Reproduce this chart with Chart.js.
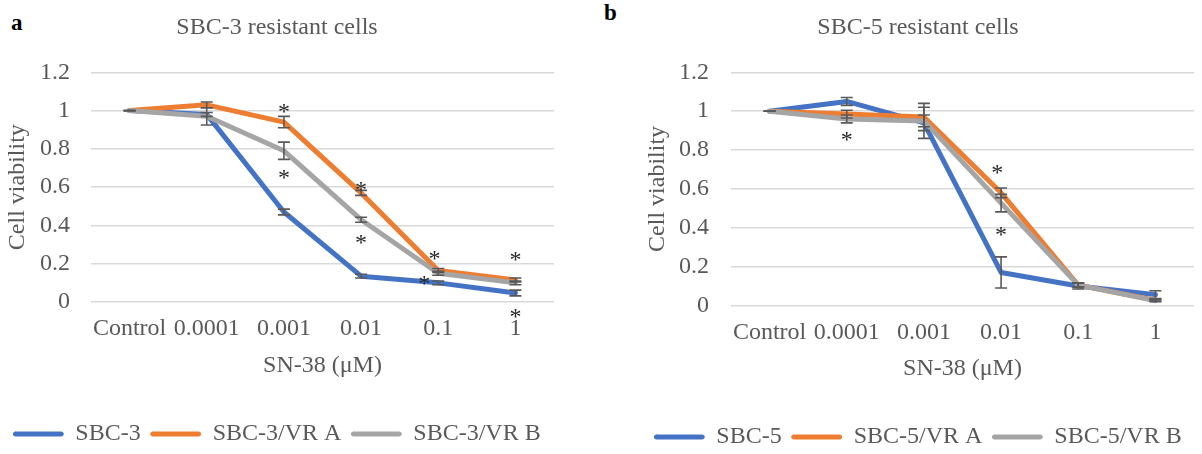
<!doctype html>
<html>
  <head>
    <meta charset="utf-8" />
    <script src="https://cdn.jsdelivr.net/npm/chart.js"></script>
    <style>
      html, body { margin: 0; padding: 0; background: #fff; overflow: hidden; }
      body { width: 1202px; height: 454px; position: relative; }
      .panel {
        position: absolute;
        font-family: "Liberation Serif", "Times New Roman", serif;
        font-weight: bold;
        font-size: 23px;
        line-height: 23px;
        color: #000;
      }
      #leftChart { position: absolute; left: 0; top: 0; }
      #rightChart { position: absolute; left: 600px; top: 0; }
    </style>
  </head>
  <body>
    <div class="panel" style="left: 11px; top: 11px">a</div>
    <div class="panel" style="left: 604px; top: 1px">b</div>
    <canvas id="leftChart" width="600" height="456"></canvas>
    <canvas id="rightChart" width="602" height="459"></canvas>
    <script>
      // x categories (SN-38 concentration, uM)
      const doses = ["Control", "0.0001", "0.001", "0.01", "0.1", "1"];

      // panel a - SBC-3 resistant cells
      const sbc3 = [1, 0.98, 0.47, 0.135, 0.1, 0.047];
      const sbc3Err = [0, 0.01, 0.015, 0.01, 0.01, 0.015];
      const sbc3VrA = [1, 1.03, 0.94, 0.57, 0.165, 0.115];
      const sbc3VrAErr = [0, 0.015, 0.03, 0.013, 0.01, 0.01];
      const sbc3VrB = [1, 0.97, 0.79, 0.43, 0.15, 0.1];
      const sbc3VrBErr = [0, 0.045, 0.045, 0.013, 0.01, 0.01];
      // significance marks (category index, value)
      const sbc3StarX = [2, 2, 3, 3, 3.95, 3.82, 5, 5];
      const sbc3StarY = [1.02, 0.675, 0.61, 0.335, 0.25, 0.12, 0.245, -0.05];

      // panel b - SBC-5 resistant cells
      const sbc5 = [1, 1.05, 0.94, 0.17, 0.1, 0.056];
      const sbc5Err = [0, 0.02, 0.08, 0.08, 0.015, 0.02];
      const sbc5VrA = [1, 0.985, 0.97, 0.58, 0.105, 0.027];
      const sbc5VrAErr = [0, 0.02, 0.07, 0.025, 0.01, 0.005];
      const sbc5VrB = [1, 0.96, 0.95, 0.527, 0.105, 0.025];
      const sbc5VrBErr = [0, 0.02, 0.03, 0.045, 0.01, 0.005];
      const sbc5StarX = [1, 2.95, 3];
      const sbc5StarY = [0.875, 0.706, 0.39];

      // y axis ticks
      const yMin = 0;
      const yMax = 1.2;
      const yStep = 0.2;

      const FONT = "'Liberation Serif', 'Times New Roman', serif";
      const TEXT = "#595959";
      const colors = ["#4472C4", "#ED7D31", "#A5A5A5"];

      Chart.defaults.font.family = FONT;
      Chart.defaults.font.size = 24;
      Chart.defaults.color = TEXT;

      function lineSet(label, data, errors, color, order) {
        return {
          label: label,
          data: data,
          errors: errors,
          borderColor: color,
          backgroundColor: color,
          borderWidth: 5,
          borderJoinStyle: "round",
          borderCapStyle: "round",
          pointRadius: 0,
          pointHoverRadius: 0,
          tension: 0,
          order: order,
        };
      }

      // error bars + asterisks, placed through the chart scales
      function marksPlugin(starX, starY) {
        return {
          id: "marks",
          afterDatasetsDraw(chart) {
            const ctx = chart.ctx;
            const xs = chart.scales.x;
            const ys = chart.scales.y;
            ctx.save();
            ctx.strokeStyle = "#595959";
            ctx.lineWidth = 1.6;
            chart.data.datasets.forEach(function (ds) {
              ds.errors.forEach(function (e, i) {
                const px = xs.getPixelForValue(i);
                const top = ys.getPixelForValue(ds.data[i] + e);
                const bot = ys.getPixelForValue(ds.data[i] - e);
                ctx.beginPath();
                ctx.moveTo(px, top);
                ctx.lineTo(px, bot);
                ctx.moveTo(px - 6, top);
                ctx.lineTo(px + 6, top);
                ctx.moveTo(px - 6, bot);
                ctx.lineTo(px + 6, bot);
                ctx.stroke();
              });
            });
            ctx.fillStyle = "#262626";
            ctx.font = "24px " + FONT;
            ctx.textAlign = "center";
            ctx.textBaseline = "alphabetic";
            starX.forEach(function (sx, i) {
              ctx.fillText("*", xs.getPixelForValue(sx), ys.getPixelForValue(starY[i]) + 12);
            });
            ctx.restore();
          },
        };
      }

      function makeChart(id, title, names, series, errs, starX, starY, pad) {
        const ctx = document.getElementById(id).getContext("2d");
        return new Chart(ctx, {
          type: "line",
          data: {
            labels: doses,
            datasets: [
              lineSet(names[0], series[0], errs[0], colors[0], 3),
              lineSet(names[1], series[1], errs[1], colors[1], 2),
              lineSet(names[2], series[2], errs[2], colors[2], 1),
            ],
          },
          options: {
            responsive: false,
            animation: false,
            events: [],
            layout: { padding: { left: pad.left, right: pad.right, top: 0, bottom: 0 } },
            plugins: {
              title: {
                display: true,
                text: title,
                color: TEXT,
                font: { size: 24, weight: "normal" },
                padding: { top: 13, bottom: 30.5 },
              },
              legend: {
                position: "bottom",
                labels: {
                  color: TEXT,
                  font: { size: 24 },
                  boxWidth: 50,
                  boxHeight: 4,
                  padding: 10,
                  useBorderRadius: true,
                  borderRadius: 2,
                  sort: function (a, b) {
                    return a.datasetIndex - b.datasetIndex;
                  },
                  generateLabels: function (chart) {
                    return Chart.defaults.plugins.legend.labels
                      .generateLabels(chart)
                      .map(function (item) {
                        item.lineWidth = 1;
                        item.strokeStyle = item.fillStyle;
                        return item;
                      });
                  },
                },
              },
              tooltip: { enabled: false },
            },
            scales: {
              x: {
                offset: true,
                grid: { display: false, drawTicks: false },
                border: { display: false },
                ticks: { padding: 12.5, maxRotation: 0, autoSkip: false, color: TEXT },
                title: {
                  display: true,
                  text: "SN-38 (μM)",
                  color: TEXT,
                  padding: { top: 0, bottom: 31.5 },
                },
                afterFit: function (scale) {
                  scale.height = pad.xHeight;
                },
              },
              y: {
                min: yMin,
                max: yMax,
                grid: { color: "#D9D9D9", lineWidth: 1.5, drawTicks: false },
                border: { display: false },
                ticks: {
                  stepSize: yStep,
                  padding: pad.tick,
                  color: TEXT,
                  callback: function (v) {
                    return String(+v.toFixed(1));
                  },
                },
                title: {
                  display: true,
                  text: "Cell viability",
                  color: TEXT,
                  padding: { top: pad.yTitle, bottom: 0 },
                },
                afterFit: function (scale) {
                  scale.width = pad.yWidth;
                },
              },
            },
          },
          plugins: [marksPlugin(starX, starY)],
        });
      }

      makeChart(
        "leftChart",
        "SBC-3 resistant cells",
        ["SBC-3", "SBC-3/VR A", "SBC-3/VR B"],
        [sbc3, sbc3VrA, sbc3VrB],
        [sbc3Err, sbc3VrAErr, sbc3VrBErr],
        sbc3StarX,
        sbc3StarY,
        { left: 0, right: 46, tick: 21, yTitle: 3.6, yWidth: 91, xHeight: 110 }
      );

      makeChart(
        "rightChart",
        "SBC-5 resistant cells",
        ["SBC-5", "SBC-5/VR A", "SBC-5/VR B"],
        [sbc5, sbc5VrA, sbc5VrB],
        [sbc5Err, sbc5VrAErr, sbc5VrBErr],
        sbc5StarX,
        sbc5StarY,
        { left: 42, right: 8, tick: 22, yTitle: 1.6, yWidth: 89, xHeight: 109.5 }
      );
    </script>
  </body>
</html>
